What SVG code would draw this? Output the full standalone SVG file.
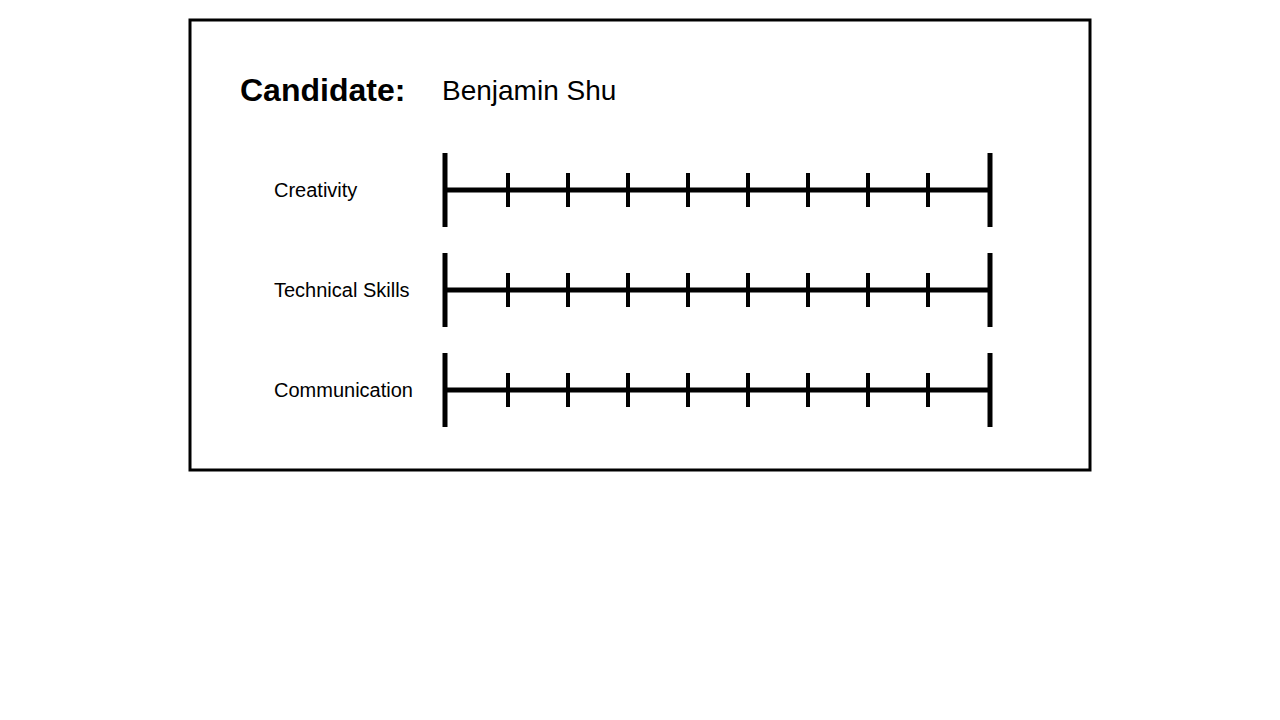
<svg xmlns="http://www.w3.org/2000/svg" width="1280" height="720" viewBox="0 0 1280 720">
<defs>
<style>
.frame{fill:#fff;stroke:#000;stroke-width:3}
.t{font-family:"Liberation Sans",Arial,sans-serif;fill:#000}
.big{stroke:#000;stroke-width:5;fill:none}
.small{stroke:#000;stroke-width:4;fill:none}
</style>
<g id="scale">
<line class="big" x1="445" y1="153" x2="445" y2="227"/>
<line class="big" x1="990" y1="153" x2="990" y2="227"/>
<line class="big" x1="445" y1="190" x2="990" y2="190"/>
<path class="small" d="M508 173V207M568 173V207M628 173V207M688 173V207M748 173V207M808 173V207M868 173V207M928 173V207"/>
</g>
</defs>
<rect width="1280" height="720" fill="#fff"/>
<rect id="card" class="frame" x="190" y="20" width="900" height="450"/>
<g id="header">
<text class="t" x="240" y="101" font-size="32" font-weight="bold">Candidate:</text>
<text class="t" x="442" y="100" font-size="28">Benjamin Shu</text>
</g>
<g id="row-creativity">
<text class="t" x="274" y="197" font-size="20">Creativity</text>
<use href="#scale"/>
</g>
<g id="row-technical">
<text class="t" x="274" y="297" font-size="20">Technical Skills</text>
<use href="#scale" y="100"/>
</g>
<g id="row-communication">
<text class="t" x="274" y="397" font-size="20">Communication</text>
<use href="#scale" y="200"/>
</g>
</svg>
